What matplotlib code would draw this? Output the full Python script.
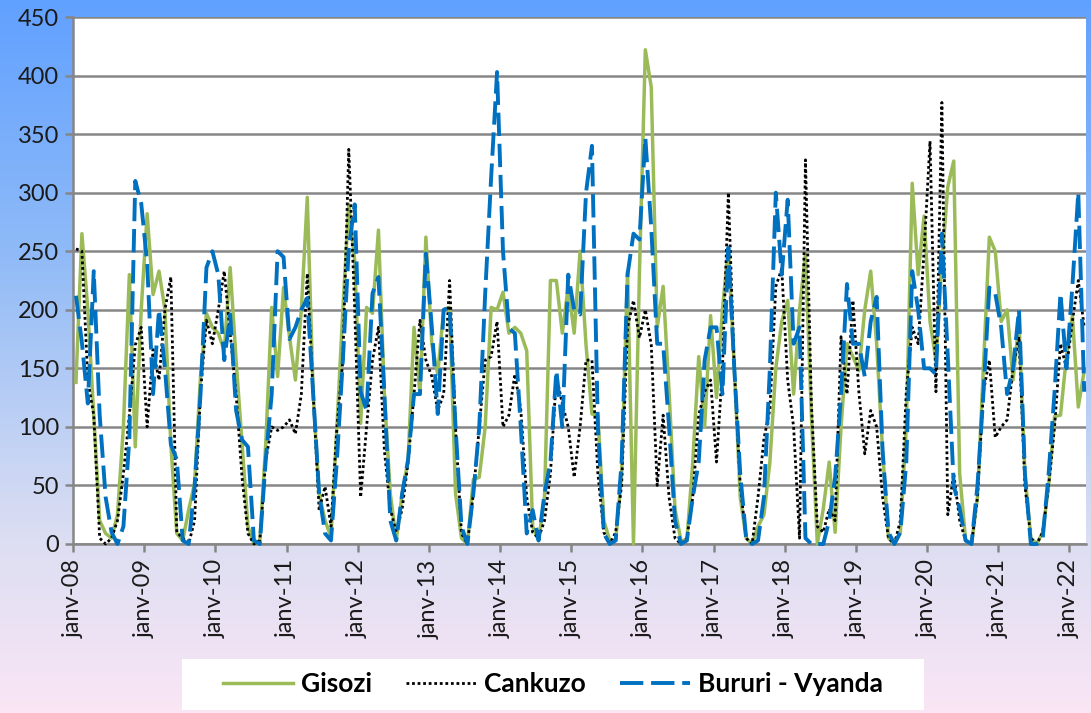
import numpy as np
import matplotlib.pyplot as plt
from matplotlib.colors import LinearSegmentedColormap
from matplotlib.patches import Rectangle

plt.rcParams['font.family'] = ['Lato', 'DejaVu Sans']

# === Monthly rainfall (mm), janv-08 .. mars-22 ===
gisozi = [
    138, 265, 200, 110, 20, 9, 5, 25, 100, 230, 83, 200,
    282, 213, 233, 200, 85, 9, 3, 29, 52, 143, 197, 185,
    180, 165, 236, 157, 86, 15, 0, 3, 86, 202, 143, 219,
    177, 140, 200, 296, 128, 43, 20, 6, 100, 200, 290, 242,
    103, 202, 197, 268, 128, 43, 3, 43, 72, 185, 128, 262,
    171, 145, 200, 202, 43, 5, 0, 55, 57, 100, 202, 200,
    215, 180, 185, 180, 165, 15, 3, 40, 225, 225, 180, 220,
    180, 250, 170, 111, 110, 20, 3, 3, 60, 233, 0, 230,
    422, 390, 185, 220, 130, 30, 3, 3, 70, 160, 100, 195,
    125, 200, 253, 150, 40, 5, 0, 15, 25, 70, 150, 190,
    208, 128, 200, 248, 110, 0, 30, 70, 10, 100, 171, 160,
    148, 200, 233, 171, 80, 5, 0, 10, 100, 308, 230, 280,
    190, 157, 240, 305, 327, 60, 3, 0, 40, 150, 262, 250,
    190, 200, 140, 190, 60, 5, 0, 10, 50, 109, 110, 160,
    195, 117, 148,
]
cankuzo = [
    252, 250, 140, 110, 5, 0, 5, 20, 60, 110, 170, 185,
    100, 166, 140, 200, 228, 10, 5, 0, 20, 130, 191, 171,
    200, 233, 180, 128, 57, 9, 0, 3, 72, 100, 97, 100,
    106, 94, 128, 231, 128, 29, 49, 15, 100, 157, 337, 200,
    40, 100, 157, 185, 80, 30, 10, 30, 70, 128, 191, 157,
    143, 114, 128, 225, 100, 9, 0, 43, 100, 157, 160, 190,
    100, 110, 145, 115, 40, 10, 5, 20, 60, 143, 120, 100,
    57, 100, 157, 157, 60, 10, 0, 10, 50, 185, 208, 176,
    200, 170, 50, 110, 40, 5, 0, 5, 40, 110, 130, 140,
    70, 150, 300, 150, 50, 5, 0, 40, 90, 115, 220, 235,
    140, 100, 5, 328, 120, 15, 10, 30, 20, 177, 128, 208,
    130, 77, 114, 100, 40, 5, 0, 20, 130, 185, 171, 250,
    344, 130, 377, 25, 60, 20, 3, 0, 40, 130, 157, 91,
    100, 106, 150, 177, 50, 5, 0, 10, 50, 100, 171, 150,
    190, 225, 185,
]
bururi = [
    212, 172, 120, 233, 110, 40, 10, 0, 15, 90, 310, 291,
    240, 128, 200, 150, 85, 72, 3, 0, 49, 128, 236, 250,
    230, 157, 196, 114, 89, 83, 3, 0, 72, 128, 250, 245,
    175, 185, 200, 210, 128, 43, 9, 3, 72, 157, 253, 290,
    130, 114, 214, 228, 128, 20, 3, 43, 72, 128, 128, 248,
    185, 111, 200, 202, 100, 15, 0, 43, 100, 214, 313, 403,
    250, 184, 180, 100, 9, 29, 3, 43, 70, 148, 100, 230,
    200, 196, 300, 340, 100, 9, 0, 3, 70, 230, 265, 260,
    347, 270, 171, 171, 100, 20, 0, 3, 40, 70, 157, 185,
    185, 128, 253, 150, 60, 5, 0, 3, 40, 150, 300, 230,
    294, 171, 185, 5, 0, 0, 0, 20, 57, 128, 222, 171,
    171, 143, 190, 211, 80, 10, 0, 10, 70, 233, 200, 150,
    150, 145, 265, 160, 50, 30, 3, 0, 50, 128, 219, 214,
    185, 128, 150, 200, 60, 0, 0, 5, 60, 130, 214, 150,
    220, 300, 130,
]
tick_labels = ['janv-%02d' % y for y in range(8, 23)]

W, H = 1091, 713
fig = plt.figure(figsize=(W / 100, H / 100), dpi=100)

# fond dégradé bleu -> rose
bg = fig.add_axes([0, 0, 1, 1], zorder=-10)
bg.axis('off')
cmap = LinearSegmentedColormap.from_list('bg', [
    (0.0, (0.38, 0.63, 1.0)),
    (0.35, (0.56, 0.73, 0.97)),
    (0.75, (0.86, 0.87, 0.95)),
    (1.0, (0.98, 0.90, 0.96)),
])
bg.imshow(np.linspace(0, 1, 256)[:, None], cmap=cmap, aspect='auto', extent=[0, 1, 0, 1])
bg.set_xlim(0, 1)
bg.set_ylim(0, 1)

ax = fig.add_axes([73 / W, 1 - 544 / H, (1086 - 73) / W, (544 - 17) / H])
ax.set_facecolor('white')

x = np.arange(len(gisozi)) + 0.5
ax.plot(x, gisozi, color='#9BBB59', lw=2.5, label='Gisozi', zorder=3, clip_on=False)
ax.plot(x, cankuzo, color='black', lw=2.0, ls=(0, (1, 1)), label='Cankuzo', zorder=3, clip_on=False)
ax.plot(x, bururi, color='#0070C0', lw=2.8, ls=(0, (6, 2)), label='Bururi - Vyanda',
        zorder=3, clip_on=False)

grey = '#868686'
ax.set_xlim(0, 170.8)
ax.set_ylim(0, 450)
ax.set_yticks(range(0, 451, 50))
ax.set_xticks(np.arange(0, 169, 12))
ax.set_xticklabels(tick_labels, rotation=90)
ax.yaxis.grid(True, color=grey, lw=1.8)
ax.set_axisbelow(True)
for s in ['top', 'right']:
    ax.spines[s].set_visible(False)
for s in ['left', 'bottom']:
    ax.spines[s].set_color(grey)
    ax.spines[s].set_linewidth(1.8)
ax.tick_params(axis='both', colors=grey, width=1.8, length=6, labelsize=17,
               labelcolor='#1a1a1a')
ax.tick_params(axis='y', pad=4)
ax.tick_params(axis='x', pad=5)

# === Légende ===
fig.patches.append(Rectangle((182 / W, 1 - 710 / H), (924 - 182) / W, (710 - 659) / H,
                             transform=fig.transFigure, facecolor='white',
                             edgecolor='none', zorder=0))
handles, labels = ax.get_legend_handles_labels()
fig.legend(handles, labels, loc='center', bbox_to_anchor=(553 / W, 1 - 684 / H), ncol=3,
           frameon=False, prop={'weight': 'bold', 'size': 19}, handlelength=2.65,
           handletextpad=0.3, columnspacing=1.3)

fig.savefig('out.png', dpi=100)
